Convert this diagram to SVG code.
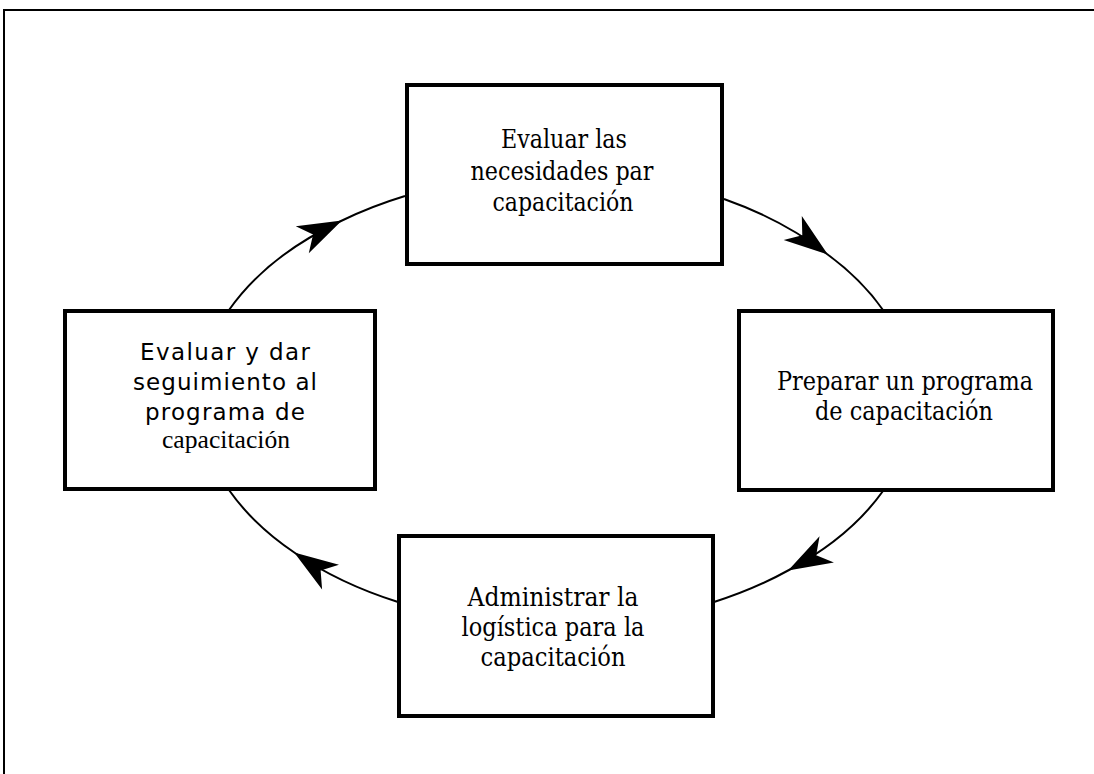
<svg xmlns="http://www.w3.org/2000/svg" width="1094" height="774" viewBox="0 0 1094 774">
<style>
.box{fill:#fff;stroke:#000;stroke-width:4}
.conn{fill:none;stroke:#000;stroke-width:2;marker-mid:url(#ah)}
.serif{font-family:"DejaVu Serif","Liberation Serif",serif;font-stretch:condensed;font-size:26px;fill:#000;text-anchor:middle}
.sans{font-family:"DejaVu Sans","Liberation Sans",sans-serif;font-size:23px;fill:#000;text-anchor:middle}
.times{font-family:"Liberation Serif",serif;font-size:25px;fill:#000;text-anchor:middle}
</style>
<defs>
<marker id="ah" markerUnits="userSpaceOnUse" markerWidth="50" markerHeight="36" viewBox="-46 -18 48 36" refX="0" refY="0" orient="auto">
<path d="M1,0 L-43,-15 L-31,0 L-43,15 Z" fill="#000"/>
</marker>
</defs>
<rect width="1094" height="774" fill="#fff"/>
<path d="M4,774 L4,10 L1094,10" fill="none" stroke="#000" stroke-width="2"/>
<g id="connectors">
<path class="conn" d="M229,310 A355,225 0 0 1 341,221 A355,225 0 0 1 405,196"/>
<path class="conn" d="M724,199 A355,225 0 0 1 827,254 A355,225 0 0 1 883,310"/>
<path class="conn" d="M883,491 A355,225 0 0 1 789,570 A355,225 0 0 1 714,602"/>
<path class="conn" d="M398,602 A355,225 0 0 1 295,553 A355,225 0 0 1 229,490"/>
</g>
<g id="node-evaluar-necesidades">
<rect class="box" x="407" y="85" width="315" height="179"/>
<text class="serif" x="564" y="148" textLength="126" lengthAdjust="spacingAndGlyphs">Evaluar las</text>
<text class="serif" x="562" y="180" textLength="183" lengthAdjust="spacingAndGlyphs">necesidades par</text>
<text class="serif" x="563" y="211" textLength="141" lengthAdjust="spacingAndGlyphs">capacitación</text>
</g>
<g id="node-preparar">
<rect class="box" x="739" y="311" width="314" height="179"/>
<text class="serif" x="905" y="390" textLength="256" lengthAdjust="spacingAndGlyphs">Preparar un programa</text>
<text class="serif" x="904" y="420" textLength="178" lengthAdjust="spacingAndGlyphs">de capacitación</text>
</g>
<g id="node-administrar">
<rect class="box" x="399" y="536" width="314" height="180"/>
<text class="serif" x="553" y="606" textLength="171" lengthAdjust="spacingAndGlyphs">Administrar la</text>
<text class="serif" x="553" y="636" textLength="183" lengthAdjust="spacingAndGlyphs">logística para la</text>
<text class="serif" x="553" y="666" textLength="145" lengthAdjust="spacingAndGlyphs">capacitación</text>
</g>
<g id="node-evaluar-seguimiento">
<rect class="box" x="65" y="311" width="310" height="178"/>
<text class="sans" x="225" y="360" textLength="170" lengthAdjust="spacing">Evaluar y dar</text>
<text class="sans" x="225" y="390" textLength="184" lengthAdjust="spacing">seguimiento al</text>
<text class="sans" x="225" y="420" textLength="160" lengthAdjust="spacing">programa de</text>
<text class="times" x="226" y="448" textLength="128" lengthAdjust="spacingAndGlyphs">capacitación</text>
</g>
</svg>
